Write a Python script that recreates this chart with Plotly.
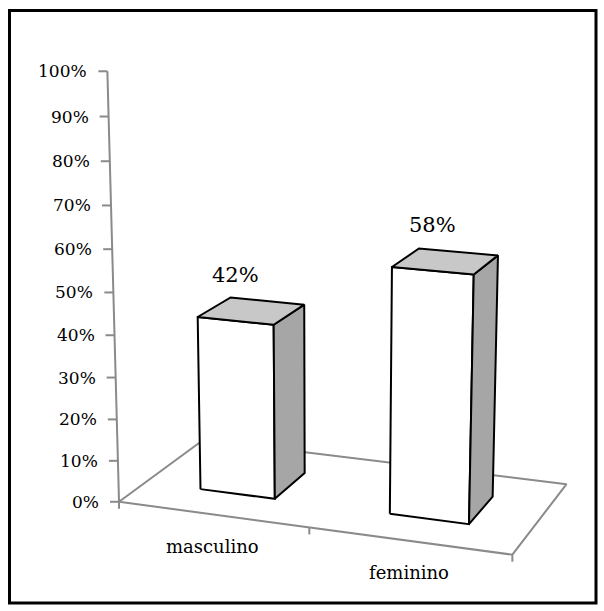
import numpy as np
import plotly.graph_objects as go

# ---- data ----
categories = ["masculino", "feminino"]
values = [0.42, 0.58]
value_labels = ["42%", "58%"]
tick_values = [0.0, 0.1, 0.2, 0.3, 0.4, 0.5, 0.6, 0.7, 0.8, 0.9, 1.0]
tick_labels = ["0%", "10%", "20%", "30%", "40%", "50%", "60%", "70%", "80%", "90%", "100%"]

# ---- 3D camera (perspective projection matrix, world -> page pixels) ----
# world: x = category axis (1 unit per category), y = depth (0 front .. 1 back), z = value (0..1)
P = np.array([
    [180.594, 103.345, -17.3952, 119.015],
    [9.04856, -21.1843, -434.316, 501.782],
    [-0.0313849, 0.0928084, -0.0535357, 1.0],
])

def proj(X, Y, Z):
    h = P @ np.array([X, Y, Z, 1.0])
    return h[0] / h[2], h[1] / h[2]

GAP = 0.3          # gap width / gap depth 150%  -> bar occupies 40% of slot
AX = "#8a8a8a"
fig = go.Figure()

def line(pts, color=AX, width=2):
    xs, ys = zip(*pts)
    fig.add_trace(go.Scatter(x=xs, y=ys, mode="lines", line=dict(color=color, width=width),
                             hoverinfo="skip", showlegend=False))

def face(pts, fill):
    xs, ys = zip(*(pts + [pts[0]]))
    fig.add_trace(go.Scatter(x=xs, y=ys, mode="lines", fill="toself", fillcolor=fill,
                             line=dict(color="black", width=2), hoverinfo="skip", showlegend=False))

ncat = len(categories)

# floor
floor = [(0, 0, 0), (ncat, 0, 0), (ncat, 1, 0), (0, 1, 0), (0, 0, 0)]
line([proj(*q) for q in floor])

# value axis, ticks and labels
line([proj(0, 0, tick_values[0]), proj(0, 0, tick_values[-1])])
for t, lab in zip(tick_values, tick_labels):
    u, v = proj(0, 0, t)
    line([(u - 9, v), (u, v)])
    fig.add_annotation(x=u - 18, y=v, text=lab, showarrow=False, xanchor="right", yanchor="middle",
                       font=dict(family="DejaVu Serif", size=17, color="black"))

# category ticks
for i in range(ncat + 1):
    u, v = proj(i, 0, 0)
    line([(u, v), (u, v + 7)])

# bars
for i, (cat, val, vl) in enumerate(zip(categories, values, value_labels)):
    x0, x1 = i + GAP, i + 1 - GAP
    y0, y1 = GAP, 1 - GAP
    face([proj(x0, y0, 0), proj(x1, y0, 0), proj(x1, y0, val), proj(x0, y0, val)], "white")
    face([proj(x1, y0, 0), proj(x1, y1, 0), proj(x1, y1, val), proj(x1, y0, val)], "#a6a6a6")
    face([proj(x0, y0, val), proj(x1, y0, val), proj(x1, y1, val), proj(x0, y1, val)], "#c8c8c8")
    u, v = proj(i + 0.5, y0, val)
    fig.add_annotation(x=u, y=v - 46, text=vl, showarrow=False, xanchor="center", yanchor="middle",
                       font=dict(family="DejaVu Serif", size=21, color="black"))
    u, v = proj(i + 0.5, 0, 0)
    fig.add_annotation(x=u, y=v + 32, text=cat, showarrow=False, xanchor="center", yanchor="middle",
                       font=dict(family="DejaVu Serif", size=18, color="black"))

# chart frame
fig.add_shape(type="rect", xref="paper", yref="paper",
              x0=9.5 / 604, y0=1 - 10.5 / 611, x1=596 / 604, y1=1 - 603 / 611,
              line=dict(color="black", width=3))

fig.update_layout(width=604, height=611, margin=dict(l=0, r=0, t=0, b=0),
                  paper_bgcolor="white", plot_bgcolor="white",
                  xaxis=dict(range=[0, 604], visible=False, fixedrange=True),
                  yaxis=dict(range=[611, 0], visible=False, fixedrange=True))
fig.write_html("out.html", config={"displayModeBar": False},
               post_script="document.body.style.margin='0';")
